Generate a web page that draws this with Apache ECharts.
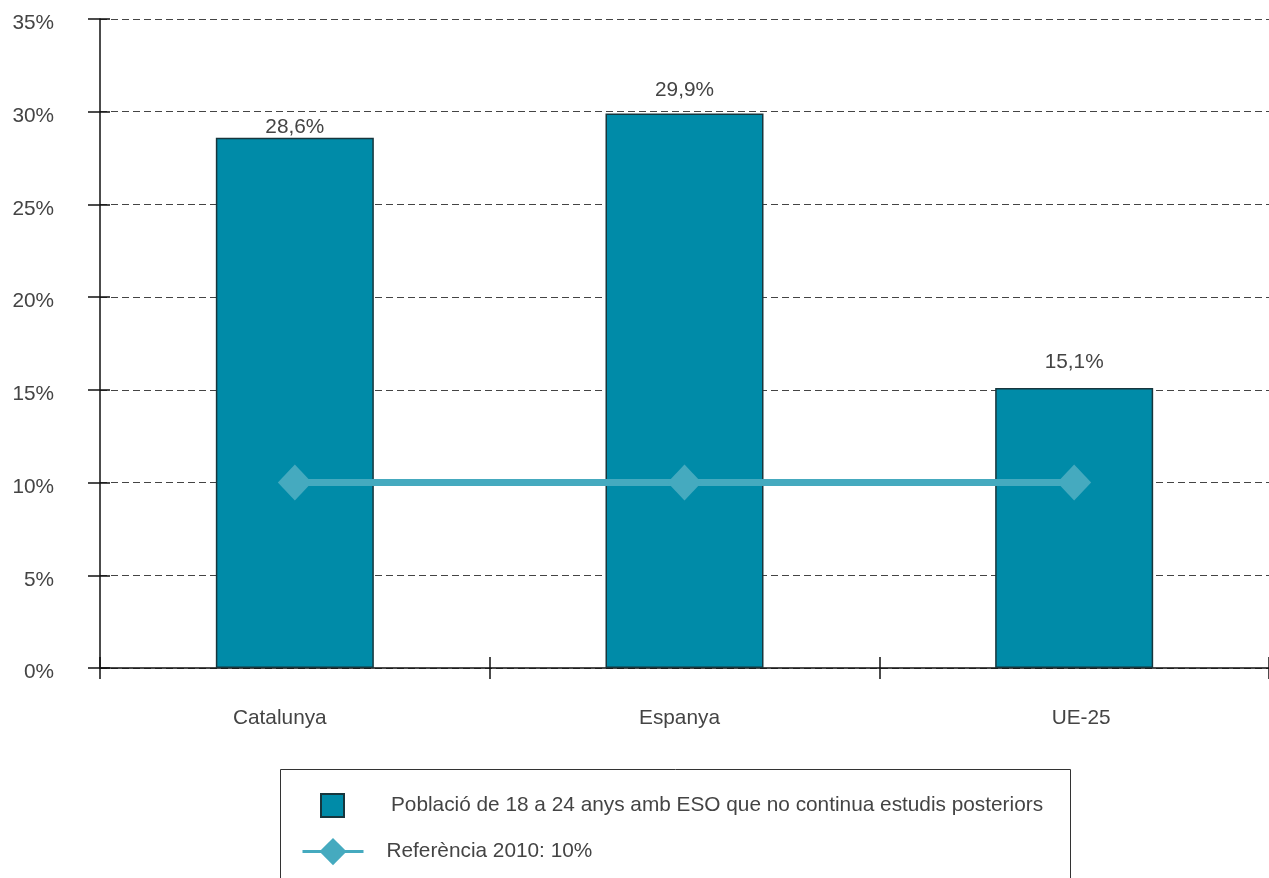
<!DOCTYPE html>
<html>
<head>
<meta charset="utf-8">
<script src="https://cdn.jsdelivr.net/npm/echarts@6/dist/echarts.min.js"></script>
<style>
html,body{margin:0;padding:0;background:#fff;}
#chart{width:1269px;height:878px;}
</style>
</head>
<body>
<div id="chart"></div>
<script>
const categories = ['Catalunya', 'Espanya', 'UE-25'];
const barName = 'Població de 18 a 24 anys amb ESO que no continua estudis posteriors';
const barValues = [28.6, 29.9, 15.1];
const lineName = 'Referència 2010: 10%';
const lineValues = [10, 10, 10];
const yTicks = [0, 5, 10, 15, 20, 25, 30, 35];

const FONT = '"Liberation Sans", Arial, sans-serif';
const FS = 20.8;
const TXT = '#444';
const labelDistances = [0, 13, 15];
const catShift = {'Catalunya': [0, 30, 0, 0], 'Espanya': [0, 10, 0, 0], 'UE-25': [0, 0, 0, 14]};

const chart = echarts.init(document.getElementById('chart'), null, {renderer: 'canvas'});
const txt = {fontSize: FS, color: TXT, fontFamily: FONT};
const option = {
  animation: false,
  backgroundColor: '#fff',
  textStyle: {fontFamily: FONT},
  grid: {left: 100, top: 19, width: 1173, height: 649},
  xAxis: [{
    type: 'category', data: categories, position: 'bottom',
    axisLine: {show: true, lineStyle: {color: '#111', width: 1.5}},
    axisTick: {show: true, length: 11, lineStyle: {color: '#111', width: 1.5}},
    axisLabel: Object.assign({
      margin: 40,
      formatter: function (v) { return '{' + (v === 'Catalunya' ? 'a' : v === 'Espanya' ? 'b' : 'c') + '|' + v + '}'; },
      rich: {
        a: Object.assign({padding: catShift['Catalunya']}, txt),
        b: Object.assign({padding: catShift['Espanya']}, txt),
        c: Object.assign({padding: catShift['UE-25']}, txt)
      }
    }, txt)
  }, {
    type: 'category', data: categories, position: 'bottom', offset: 0,
    axisLine: {show: false},
    axisTick: {show: true, inside: true, length: 11, lineStyle: {color: '#111', width: 1.5}},
    axisLabel: {show: false}
  }],
  yAxis: [{
    type: 'value', min: 0, max: 35, interval: 5,
    axisLine: {show: true, lineStyle: {color: '#111', width: 1.5}},
    axisTick: {show: true, length: 12, lineStyle: {color: '#111', width: 1.5}},
    axisLabel: Object.assign({margin: 46, formatter: '{value}%', verticalAlign: 'top', lineHeight: 9}, txt),
    splitLine: {show: true, lineStyle: {color: '#444', width: 1, type: [7, 4]}}
  }, {
    type: 'value', min: 0, max: 35, interval: 5, position: 'left',
    axisLine: {show: false},
    axisTick: {show: true, inside: true, length: 10, lineStyle: {color: '#111', width: 1.5}},
    axisLabel: {show: false},
    splitLine: {show: false}
  }],
  legend: [{
    data: [barName], left: 320, top: 793, padding: 0, icon: 'rect', itemWidth: 23, itemHeight: 23,
    selectedMode: false,
    textStyle: Object.assign({padding: [4, 0, 0, 42]}, txt)
  }, {
    data: [lineName], left: 301, top: 838, padding: 0, itemWidth: 61, itemHeight: 34,
    selectedMode: false,
    lineStyle: {width: 3},
    textStyle: Object.assign({padding: [0, 0, 0, 18]}, txt)
  }],
  graphic: [{
    type: 'rect', silent: true,
    shape: {x: 280.5, y: 769.5, width: 790, height: 200},
    style: {fill: 'none', stroke: '#333', lineWidth: 1}
  }],
  series: [{
    name: barName, type: 'bar', barWidth: 158,
    data: barValues.map((v, i) => ({value: v, label: {distance: labelDistances[i]}})),
    itemStyle: {color: '#008ba8', borderColor: '#17363d', borderWidth: 1.5},
    label: Object.assign({
      show: true, position: 'top',
      formatter: p => p.value.toFixed(1).replace('.', ',') + '%'
    }, txt),
    z: 2
  }, {
    name: lineName, type: 'line', data: lineValues,
    symbol: 'diamond', symbolSize: [34, 36],
    lineStyle: {color: '#45aabf', width: 7},
    itemStyle: {color: '#45aabf'},
    z: 3
  }]
};
chart.setOption(option);
</script>
</body>
</html>
